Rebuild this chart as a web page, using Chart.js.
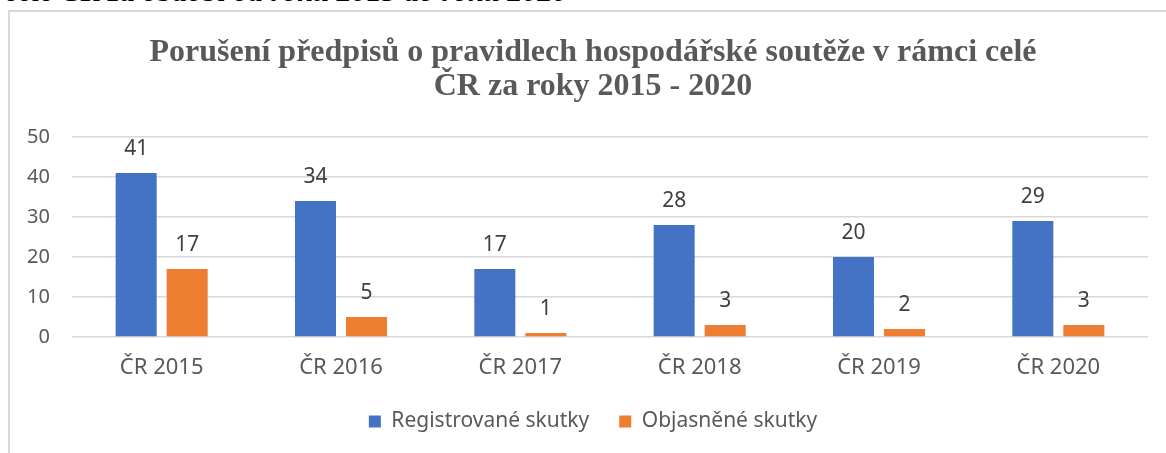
<!DOCTYPE html>
<html>
<head>
<meta charset="utf-8">
<script src="https://cdn.jsdelivr.net/npm/chart.js@4"></script>
<style>
  html, body { margin: 0; padding: 0; background: #fff; overflow: hidden; width: 1166px; height: 453px; }
  #caption {
    position: absolute; left: 5px; top: -24px;
    font: bold italic 30px "Liberation Serif", serif; line-height: 30px;
    color: #000; white-space: nowrap;
  }
  #box {
    position: absolute; left: 8px; top: 10px; width: 1180px; height: 460px;
    border-top: 2px solid #d9d9d9; border-left: 2px solid #d9d9d9;
  }
  #wrap { position: absolute; left: -1px; top: -1px; width: 1168px; height: 458px; }
</style>
</head>
<body>
<div id="caption">celé ČR za období od roku 2015 do roku 2020</div>
<div id="box"><div id="wrap"><canvas id="bar-chart"></canvas></div></div>
<script>
( function() {

  var categories = [ 'ČR 2015', 'ČR 2016', 'ČR 2017', 'ČR 2018', 'ČR 2019', 'ČR 2020' ];
  var registrovane = [ 41, 34, 17, 28, 20, 29 ];
  var objasnene = [ 17, 5, 1, 3, 2, 3 ];
  var yTicks = [ 0, 10, 20, 30, 40, 50 ];

  var sans = '"Noto Sans", "Open Sans", sans-serif';

  // values above the bars, Excel style
  var valueLabels = {
    id: 'valueLabels',
    afterDatasetsDraw: function( chart ) {
      var ctx = chart.ctx;
      ctx.save();
      ctx.font = '21px ' + sans;
      ctx.fillStyle = '#404040';
      ctx.textAlign = 'center';
      ctx.textBaseline = 'alphabetic';
      chart.data.datasets.forEach( function( ds, i ) {
        chart.getDatasetMeta( i ).data.forEach( function( bar, j ) {
          ctx.fillText( String( ds.data[ j ] ), bar.x, bar.y - 18 );
        } );
      } );
      ctx.restore();
    }
  };

  var config = {
    type: 'bar',
    data: {
      labels: categories,
      datasets: [
        {
          label: 'Registrované skutky',
          data: registrovane,
          backgroundColor: '#4472C4',
          barPercentage: 0.804,
          categoryPercentage: 0.569
        },
        {
          label: 'Objasněné skutky',
          data: objasnene,
          backgroundColor: '#ED7D31',
          barPercentage: 0.804,
          categoryPercentage: 0.569
        }
      ]
    },
    options: {
      responsive: true,
      maintainAspectRatio: false,
      animation: false,
      layout: { padding: { left: 0, right: 0, top: 0, bottom: 27 } },
      plugins: {
        title: {
          display: true,
          text: [ 'Porušení předpisů o pravidlech hospodářské soutěže v rámci celé', 'ČR za roky 2015 - 2020' ],
          color: '#595959',
          font: { family: '"Liberation Serif", serif', size: 32, weight: 'bold', lineHeight: 1.0625 },
          padding: { top: 25, bottom: 33 }
        },
        legend: {
          position: 'bottom',
          labels: {
            boxWidth: 12,
            boxHeight: 12,
            padding: 30,
            color: '#595959',
            font: { family: sans, size: 21 }
          }
        },
        tooltip: { enabled: false }
      },
      scales: {
        x: {
          grid: { display: false, drawTicks: false },
          border: { display: false },
          ticks: { color: '#595959', font: { family: sans, size: 22 }, padding: 18 },
          afterFit: function( scale ) { scale.height = 44; }
        },
        y: {
          min: 0,
          max: 50,
          afterBuildTicks: function( scale ) {
            scale.ticks = yTicks.map( function( v ) { return { value: v }; } );
          },
          grid: { color: '#d9d9d9', lineWidth: 1.5, drawTicks: false },
          border: { display: false },
          ticks: { color: '#595959', font: { family: sans, size: 20 }, padding: 22 },
          afterFit: function( scale ) { scale.width = 63; }
        },
        // empty right margin so the title and legend stay centred like the original
        yRight: {
          position: 'right',
          grid: { display: false, drawTicks: false },
          border: { display: false },
          ticks: { display: false },
          afterFit: function( scale ) { scale.width = 29; }
        }
      }
    },
    plugins: [ valueLabels ]
  };

  new Chart( document.getElementById( 'bar-chart' ), config );

} )();
</script>
</body>
</html>
